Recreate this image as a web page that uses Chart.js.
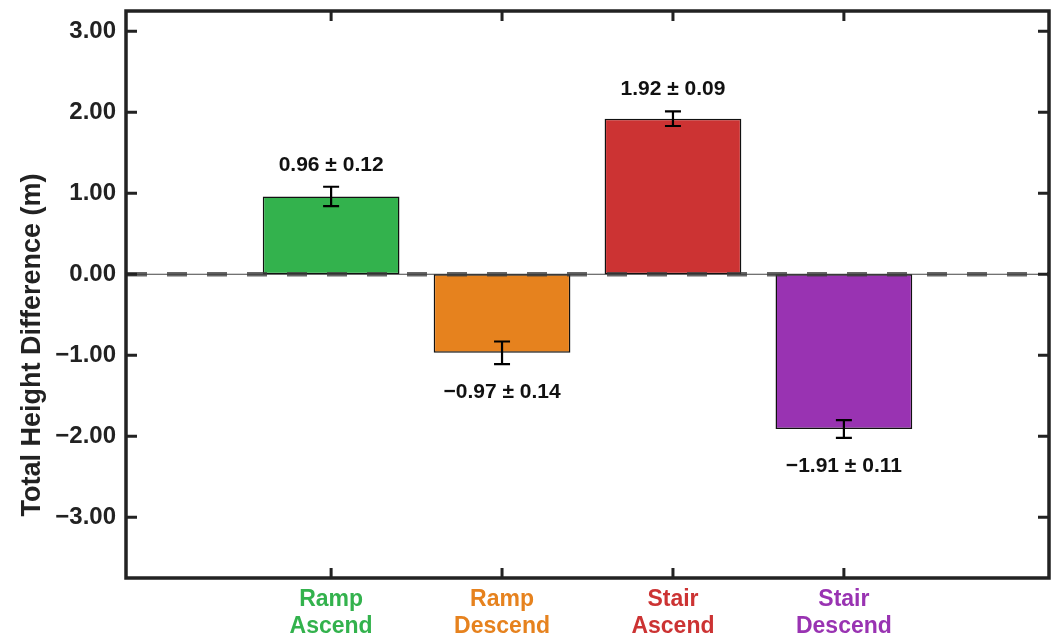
<!DOCTYPE html>
<html><head><meta charset="utf-8">
<script src="https://cdn.jsdelivr.net/npm/chart.js@4.4.1/dist/chart.umd.min.js"></script>
<style>html,body{margin:0;padding:0;background:#fff}#wrap{width:1055px;height:636px}</style>
</head><body><div id="wrap"><canvas id="c" width="1055" height="636"></canvas></div>
<script>
const categories = [['Ramp','Ascend'],['Ramp','Descend'],['Stair','Ascend'],['Stair','Descend']];
const categoryPositions = [0, 1, 2, 3];
const means = [0.96, -0.97, 1.92, -1.91];
const errors = [0.12, 0.14, 0.09, 0.11];
const barColors = ['#33B24D', '#E6821E', '#CC3333', '#9933B2'];
const yTicks = [-3, -2, -1, 0, 1, 2, 3];
const yTitle = 'Total Height Difference (m)';

const FONT = "'Liberation Sans', Arial, Helvetica, sans-serif";
const fmt = v => (v < 0 ? '\u2212' : '') + Math.abs(v).toFixed(2);

const decor = {
  id: 'decor',
  beforeDatasetsDraw(chart) {
    const {ctx, chartArea: a, scales: {y}} = chart;
    const y0 = y.getPixelForValue(0);
    ctx.save();
    ctx.strokeStyle = '#444';
    ctx.lineWidth = 1;
    ctx.beginPath(); ctx.moveTo(a.left, y0); ctx.lineTo(a.right, y0); ctx.stroke();
    ctx.restore();
  },
  afterDatasetsDraw(chart) {
    const {ctx, chartArea: a, scales: {x, y}} = chart;
    const y0 = y.getPixelForValue(0);
    ctx.save();
    ctx.strokeStyle = 'rgba(60,60,60,0.78)';
    ctx.lineWidth = 4.5;
    ctx.setLineDash([20, 20]);
    ctx.beginPath(); ctx.moveTo(a.left + 1, y0); ctx.lineTo(a.right, y0); ctx.stroke();
    ctx.setLineDash([]);
    ctx.strokeStyle = '#000';
    ctx.lineWidth = 2.2;
    means.forEach((m, i) => {
      const px = x.getPixelForValue(categoryPositions[i]);
      const hi = y.getPixelForValue(m + errors[i]);
      const lo = y.getPixelForValue(m - errors[i]);
      ctx.beginPath();
      ctx.moveTo(px, hi); ctx.lineTo(px, lo);
      ctx.moveTo(px - 8, hi); ctx.lineTo(px + 8, hi);
      ctx.moveTo(px - 8, lo); ctx.lineTo(px + 8, lo);
      ctx.stroke();
    });
    ctx.fillStyle = '#111';
    ctx.font = 'bold 21px ' + FONT;
    ctx.textAlign = 'center';
    ctx.textBaseline = 'middle';
    means.forEach((m, i) => {
      const px = x.getPixelForValue(categoryPositions[i]);
      const txt = fmt(m) + ' \u00B1 ' + errors[i].toFixed(2);
      const ty = m >= 0 ? y.getPixelForValue(m + errors[i]) - 22 : y.getPixelForValue(m - errors[i]) + 28;
      ctx.fillText(txt, px, ty);
    });
    ctx.restore();
  },
  afterDraw(chart) {
    const {ctx, chartArea: a, scales: {x, y}} = chart;
    ctx.save();
    ctx.strokeStyle = '#222';
    ctx.lineWidth = 3;
    ctx.beginPath();
    yTicks.forEach(v => {
      const py = y.getPixelForValue(v);
      ctx.moveTo(a.left, py); ctx.lineTo(a.left + 11, py);
      ctx.moveTo(a.right, py); ctx.lineTo(a.right - 11, py);
    });
    categoryPositions.forEach(v => {
      const px = x.getPixelForValue(v);
      ctx.moveTo(px, a.bottom); ctx.lineTo(px, a.bottom - 10);
      ctx.moveTo(px, a.top); ctx.lineTo(px, a.top + 10);
    });
    ctx.stroke();
    ctx.lineWidth = 3.5;
    ctx.strokeRect(a.left, a.top, a.right - a.left, a.bottom - a.top);
    // y-axis title
    ctx.translate(40, 345);
    ctx.rotate(-Math.PI / 2);
    ctx.fillStyle = '#222';
    ctx.font = 'bold 27px ' + FONT;
    ctx.textAlign = 'center';
    ctx.textBaseline = 'alphabetic';
    ctx.fillText(yTitle, 0, 0);
    ctx.restore();
  }
};

new Chart(document.getElementById('c'), {
  type: 'bar',
  data: {
    datasets: [{
      data: means.map((m, i) => ({x: categoryPositions[i], y: m})),
      backgroundColor: barColors,
      borderColor: '#111',
      borderWidth: 1.5,
      borderSkipped: false,
      barPercentage: 0.8,
      categoryPercentage: 1.0
    }]
  },
  options: {
    responsive: false,
    animation: false,
    layout: {padding: {top: 11, right: 6, left: 0, bottom: 0}},
    plugins: {legend: {display: false}, tooltip: {enabled: false}},
    scales: {
      x: {
        type: 'linear',
        offset: false,
        min: -1.2, max: 4.2,
        grid: {display: false, drawTicks: false},
        border: {display: false},
        afterBuildTicks: s => { s.ticks = categoryPositions.map(v => ({value: v})); },
        afterFit: s => { s.height = 58; s.paddingLeft = 0; s.paddingRight = 0; },
        ticks: {
          padding: 8,
          autoSkip: false,
          maxRotation: 0,
          font: {family: FONT, size: 23, weight: 'bold', lineHeight: 1.17},
          color: c => barColors[c.index] || '#222',
          callback: (v, i) => categories[i]
        }
      },
      y: {
        min: -3.75, max: 3.25,
        grid: {display: false, drawTicks: false},
        border: {display: false},
        afterBuildTicks: s => { s.ticks = yTicks.map(v => ({value: v})); },
        afterFit: s => { s.width = 126; s.paddingTop = 0; s.paddingBottom = 0; },
        ticks: {
          padding: 10,
          font: {family: FONT, size: 24, weight: 'bold'},
          color: '#222',
          callback: v => fmt(v)
        }
      }
    }
  },
  plugins: [decor]
});
</script>
</body></html>
